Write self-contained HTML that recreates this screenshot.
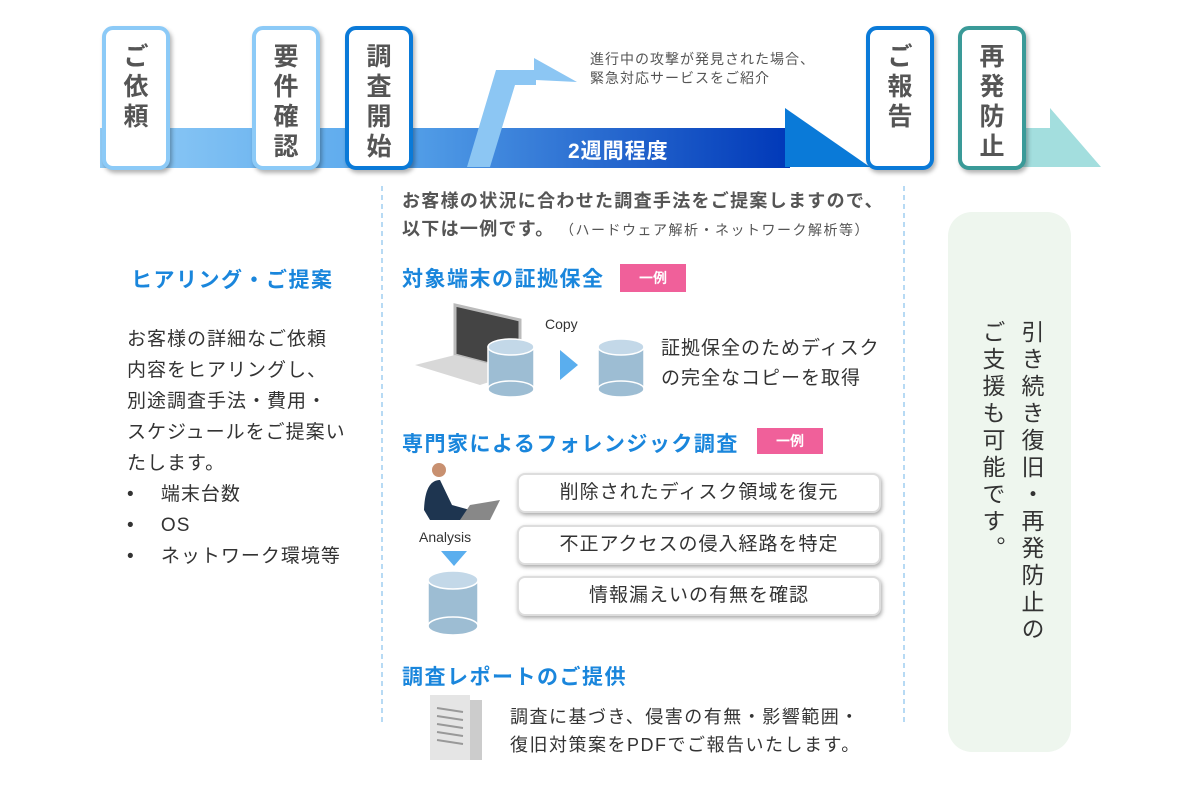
<!DOCTYPE html>
<html><head><meta charset="utf-8"><style>
*{margin:0;padding:0;box-sizing:border-box}
body{width:1200px;height:788px;background:#fff;position:relative;overflow:hidden;font-family:"Liberation Sans","Noto Sans CJK JP",sans-serif;color:#333}
.a{position:absolute;white-space:nowrap}
.box{position:absolute;top:26px;width:68px;height:144px;border:4px solid #8ccaf7;border-radius:11px;background:#fff;box-shadow:2px 3px 4px rgba(0,0,0,.3);font-size:25px;font-weight:bold;color:#555;text-align:center;line-height:30px;padding-top:12px}
.blue{color:#1a86dc;font-weight:bold;font-size:21px;letter-spacing:1.5px}
.tag{position:absolute;background:#f0609a;color:#fff;font-size:14px;font-weight:bold;text-align:center}
.pill{position:absolute;left:517px;width:364px;height:40px;border:2px solid #ddd;border-radius:8px;background:#fff;box-shadow:1px 2px 4px rgba(0,0,0,.35);font-size:19px;letter-spacing:1px;text-align:center;line-height:36px;color:#333}
.vert{position:absolute;writing-mode:vertical-rl;font-size:23px;letter-spacing:4px;color:#333}
</style></head><body>
<svg class="a" style="left:0;top:0" width="1200" height="788">
<defs><linearGradient id="g" x1="0" x2="1"><stop offset="0" stop-color="#93cdf7"/><stop offset="0.4" stop-color="#5aa8ec"/><stop offset="1" stop-color="#0038b8"/></linearGradient></defs>
<rect x="100" y="128" width="690" height="40" fill="url(#g)"/>
<polygon points="785,108 785,167 870,167" fill="#0a7ad8"/>
<rect x="1020" y="128" width="32" height="39" fill="#a3dede"/>
<polygon points="1050,108 1050,167 1101,167" fill="#a3dede"/>
<polygon points="467,167 490,167 515,85 536,85 536,80 577,82 534,58 534,70 496,70" fill="#8cc6f3"/>
<line x1="382" y1="186" x2="382" y2="722" stroke="#9fcdf0" stroke-width="1.5" stroke-dasharray="5,4"/>
<line x1="904" y1="186" x2="904" y2="722" stroke="#9fcdf0" stroke-width="1.5" stroke-dasharray="5,4"/>
<polygon points="455,305 520,320 520,372 455,355" fill="#444" stroke="#bbb" stroke-width="3"/>
<polygon points="415,365 455,355 520,372 480,385" fill="#d8d8d8"/>
<g stroke="#fff" stroke-width="1.5">
<rect x="488" y="347" width="46" height="42" fill="#9dbdd3"/><ellipse cx="511" cy="347" rx="23" ry="8" fill="#c3d8e8"/><ellipse cx="511" cy="389" rx="23" ry="8" fill="#9dbdd3"/>
<rect x="598" y="347" width="46" height="42" fill="#9dbdd3"/><ellipse cx="621" cy="347" rx="23" ry="8" fill="#c3d8e8"/><ellipse cx="621" cy="389" rx="23" ry="8" fill="#9dbdd3"/>
<rect x="428" y="580" width="50" height="46" fill="#9dbdd3"/><ellipse cx="453" cy="580" rx="25" ry="9" fill="#c3d8e8"/><ellipse cx="453" cy="626" rx="25" ry="9" fill="#9dbdd3"/>
</g>
<polygon points="560,350 560,380 578,365" fill="#5aaeee"/>
<polygon points="441,551 467,551 454,566" fill="#5aaeee"/>
<circle cx="439" cy="470" r="7" fill="#c89070"/>
<path d="M424,510 Q425,480 440,480 L452,505 L470,510 L470,520 L430,520Z" fill="#1e3550"/>
<polygon points="460,520 490,520 500,500 470,505" fill="#888"/>
<rect x="430" y="695" width="40" height="65" fill="#e5e5e5"/><rect x="470" y="700" width="12" height="60" fill="#ccc"/>
<g stroke="#999" stroke-width="2"><line x1="437" y1="708" x2="463" y2="712"/><line x1="437" y1="716" x2="463" y2="720"/><line x1="437" y1="724" x2="463" y2="728"/><line x1="437" y1="732" x2="463" y2="736"/><line x1="437" y1="740" x2="463" y2="744"/></g>
</svg>
<div class="box" style="left:102px">ご<br>依<br>頼</div>
<div class="box" style="left:252px">要<br>件<br>確<br>認</div>
<div class="box" style="left:345px;border-color:#0a7ad8">調<br>査<br>開<br>始</div>
<div class="box" style="left:866px;border-color:#0a7ad8">ご<br>報<br>告</div>
<div class="box" style="left:958px;border-color:#3a9a98">再<br>発<br>防<br>止</div>
<div class="a" style="left:590px;top:50px;font-size:14px;letter-spacing:1px;line-height:19px;color:#555">進行中の攻撃が発見された場合、<br>緊急対応サービスをご紹介</div>
<div class="a" style="left:568px;top:135px;font-size:21px;letter-spacing:1px;font-weight:bold;color:#fff">2週間程度</div>

<div class="a blue" style="left:131px;top:264px">ヒアリング・ご提案</div>
<div class="a" style="left:127px;top:324px;font-size:19px;letter-spacing:1px;line-height:31px;color:#333">お客様の詳細なご依頼<br>内容をヒアリングし、<br>別途調査手法・費用・<br>スケジュールをご提案い<br>たします。<br>•　 端末台数<br>•　 OS<br>•　 ネットワーク環境等</div>

<div class="a" style="left:402px;top:187px;font-size:18px;letter-spacing:1.3px;font-weight:bold;line-height:28px;color:#555">お客様の状況に合わせた調査手法をご提案しますので、<br>以下は一例です。<span style="font-size:14px;font-weight:normal;letter-spacing:1.5px"> （ハードウェア解析・ネットワーク解析等）</span></div>
<div class="a blue" style="left:402px;top:263px">対象端末の証拠保全</div>
<div class="tag" style="left:620px;top:264px;width:66px;height:28px;line-height:28px">一例</div>
<div class="a" style="left:545px;top:316px;font-size:14px">Copy</div>
<div class="a" style="left:661px;top:334px;font-size:19px;letter-spacing:1px;line-height:30px">証拠保全のためディスク<br>の完全なコピーを取得</div>
<div class="a blue" style="left:402px;top:428px">専門家によるフォレンジック調査</div>
<div class="tag" style="left:757px;top:428px;width:66px;height:26px;line-height:26px">一例</div>
<div class="a" style="left:419px;top:529px;font-size:14px">Analysis</div>
<div class="pill" style="top:473px">削除されたディスク領域を復元</div>
<div class="pill" style="top:525px">不正アクセスの侵入経路を特定</div>
<div class="pill" style="top:576px">情報漏えいの有無を確認</div>
<div class="a blue" style="left:402px;top:661px">調査レポートのご提供</div>
<div class="a" style="left:510px;top:703px;font-size:18px;letter-spacing:1.5px;line-height:28px">調査に基づき、侵害の有無・影響範囲・<br>復旧対策案をPDFでご報告いたします。</div>

<div class="a" style="left:948px;top:212px;width:123px;height:540px;background:#eef6ee;border-radius:24px"></div>
<div class="vert" style="left:1014px;top:320px">引き続き復旧・再発防止の</div>
<div class="vert" style="left:975px;top:320px">ご支援も可能です。</div>
</body></html>
